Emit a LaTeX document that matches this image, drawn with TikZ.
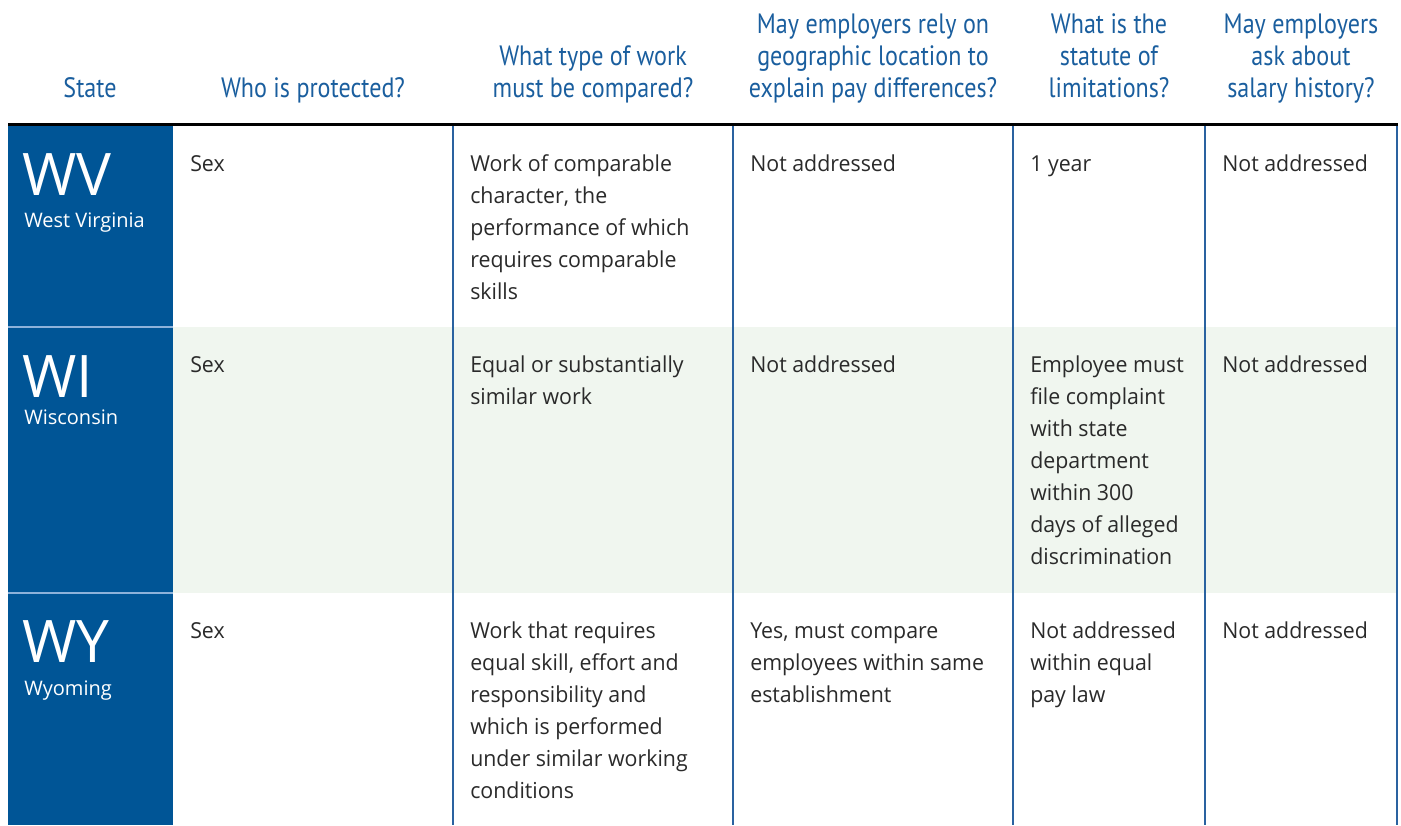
\documentclass[tikz,border=0pt]{standalone}
\usepackage{fontspec}
\setmainfont{Open Sans}
\newfontfamily\bodyfont[FakeStretch=0.97]{Open Sans}
\newfontfamily\hfont[FakeStretch=0.86]{PT Sans}
\definecolor{stblue}{HTML}{005596}
\definecolor{hblue}{HTML}{1A5E9E}
\definecolor{lineblue}{HTML}{2A62A0}
\definecolor{sepblue}{HTML}{8DB2DA}
\definecolor{rowgreen}{HTML}{F0F6EF}
\definecolor{bodytext}{HTML}{2A2A2A}
\newcommand{\hdrtext}[1]{\parbox[b]{190pt}{\centering\hfont\fontsize{21}{24}\selectfont #1}}
\newcommand{\celltext}[1]{\parbox[t]{200pt}{\raggedright\bodyfont\fontsize{16.5}{24}\selectfont #1}}
\tikzset{
  hdr/.style={anchor=base, inner sep=0pt, text=hblue},
  cell/.style={anchor=base west, inner sep=0pt, text=bodytext},
  abbr/.style={anchor=base west, inner sep=0pt, text=white, font=\fontsize{44}{44}\selectfont},
  stname/.style={anchor=base west, inner sep=0pt, text=white, font=\fontsize{15}{17}\selectfont},
  vline/.style={draw=lineblue, line width=1.1pt},
  rowsep/.style={draw=sepblue, line width=1.2pt},
  toprule/.style={draw=black, line width=2.3pt}
}
\begin{document}
\begin{tikzpicture}[x=0.75pt,y=-0.75pt]
\useasboundingbox (0,0) rectangle (1401,825);
% backgrounds
\fill[rowgreen] (173,327) rectangle (1397,593);
\fill[stblue] (8,126) rectangle (173,825);
\draw[rowsep] (8,327) -- (173,327);
\draw[rowsep] (8,593) -- (173,593);
% vertical rules
\foreach \xx in {453,733,1013,1205,1397} {
  \draw[vline] (\xx,126) -- (\xx,825);
}
\draw[toprule] (8,124.5) -- (1398,124.5);
% headers
\node[hdr] (h1) at (90,97) {\hdrtext{State}};
\node[hdr] (h2) at (313,97) {\hdrtext{Who is protected?}};
\node[hdr] (h3) at (593,97) {\hdrtext{What type of work\\must be compared?}};
\node[hdr] (h4) at (873,97) {\hdrtext{May employers rely on\\geographic location to\\explain pay differences?}};
\node[hdr] (h5) at (1109,97) {\hdrtext{What is the\\statute of\\limitations?}};
\node[hdr] (h6) at (1301,97) {\hdrtext{May employers\\ask about\\salary history?}};
% state column
\node[abbr] (wv) at (22,195) {WV};
\node[stname] (wvn) at (24,227) {West Virginia};
\node[abbr] (wi) at (22,397) {WI};
\node[stname] (win) at (24,424) {Wisconsin};
\node[abbr] (wy) at (22,662) {WY};
\node[stname] (wyn) at (24,695) {Wyoming};
% row 1
\node[cell] (r1c2) at (190,171) {\celltext{Sex}};
\node[cell] (r1c3) at (470,171) {\celltext{Work of comparable\\character, the\\performance of which\\requires comparable\\skills}};
\node[cell] (r1c4) at (750,171) {\celltext{Not addressed}};
\node[cell] (r1c5) at (1030,171) {\celltext{1 year}};
\node[cell] (r1c6) at (1222,171) {\celltext{Not addressed}};
% row 2
\node[cell] (r2c2) at (190,372) {\celltext{Sex}};
\node[cell] (r2c3) at (470,372) {\celltext{Equal or substantially\\similar work}};
\node[cell] (r2c4) at (750,372) {\celltext{Not addressed}};
\node[cell] (r2c5) at (1030,372) {\celltext{Employee must\\file complaint\\with state\\department\\within 300\\days of alleged\\discrimination}};
\node[cell] (r2c6) at (1222,372) {\celltext{Not addressed}};
% row 3
\node[cell] (r3c2) at (190,638) {\celltext{Sex}};
\node[cell] (r3c3) at (470,638) {\celltext{Work that requires\\equal skill, effort and\\responsibility and\\which is performed\\under similar working\\conditions}};
\node[cell] (r3c4) at (750,638) {\celltext{Yes, must compare\\employees within same\\establishment}};
\node[cell] (r3c5) at (1030,638) {\celltext{Not addressed\\within equal\\pay law}};
\node[cell] (r3c6) at (1222,638) {\celltext{Not addressed}};
\end{tikzpicture}
\end{document}
